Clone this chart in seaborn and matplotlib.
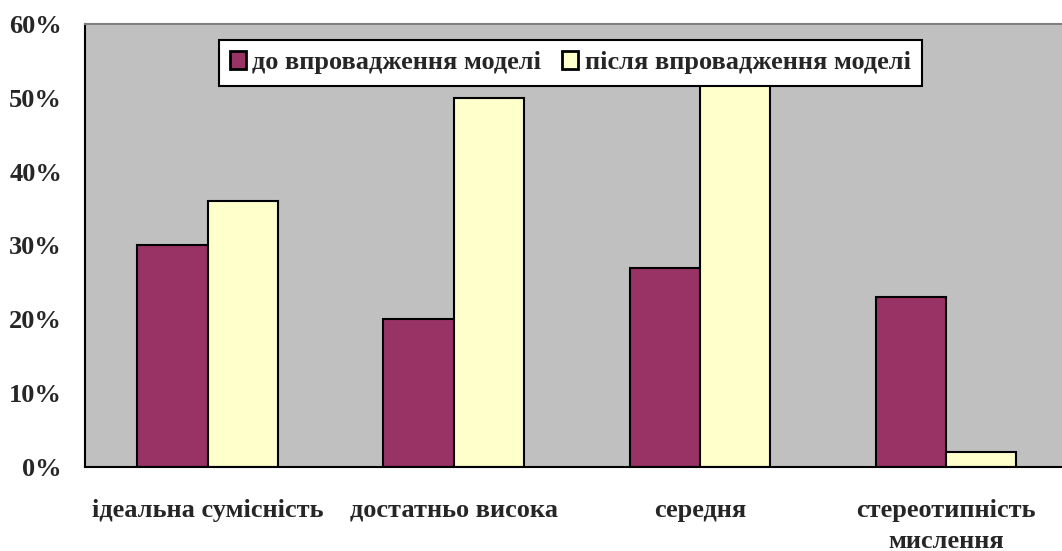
import matplotlib
matplotlib.use("Agg")
import matplotlib.pyplot as plt
import seaborn as sns
import pandas as pd
from matplotlib.ticker import FixedLocator, PercentFormatter

# Дані з діаграми
categories = ["ідеальна сумісність", "достатньо висока", "середня", "стереотипність\nмислення"]
series_names = ["до впровадження моделі", "після впровадження моделі"]
before = [30, 20, 27, 23]
after = [36, 50, 52, 2]
y_ticks = [0, 10, 20, 30, 40, 50, 60]

colors = ["#993366", "#FFFFCC"]

rows = []
for cat, b, a in zip(categories, before, after):
    rows.append({"Category": cat, "Series": series_names[0], "Value": b})
    rows.append({"Category": cat, "Series": series_names[1], "Value": a})
df = pd.DataFrame(rows)

sns.set_style("white")
plt.rcParams["font.family"] = ["Liberation Serif", "DejaVu Serif"]
plt.rcParams["font.weight"] = "bold"

fig = plt.figure(figsize=(10.62, 5.51), dpi=100)
ax = fig.add_axes([0.080, 0.1525, 0.9266, 0.804])
ax.set_facecolor("#C0C0C0")

sns.barplot(data=df, x="Category", y="Value", hue="Series", order=categories,
            hue_order=series_names, palette=colors, width=0.573, gap=0,
            edgecolor="black", linewidth=1.5, saturation=1, ax=ax)

ax.set_xlim(-0.5, 3.5)
ax.set_ylim(0, 60)
ax.set_yticks(y_ticks)
ax.yaxis.set_major_formatter(PercentFormatter(decimals=0))
ax.set_xlabel("")
ax.set_ylabel("")

# ticks between categories
ax.xaxis.set_minor_locator(FixedLocator([-0.5, 0.5, 1.5, 2.5, 3.5]))
ax.tick_params(axis="x", which="major", length=0, pad=23, labelsize=19)
ax.tick_params(axis="x", which="minor", length=6.5, width=1.5, color="black", direction="out")
ax.tick_params(axis="y", length=6.5, width=1.5, color="black", direction="out", labelsize=19, pad=10)
for lab in ax.get_xticklabels():
    lab.set_fontweight("bold")
    lab.set_linespacing(1.45)
for lab in ax.get_yticklabels():
    lab.set_fontweight("bold")

for side in ["left", "bottom"]:
    ax.spines[side].set_color("black")
    ax.spines[side].set_linewidth(1.5)
ax.spines["top"].set_color("#808080")
ax.spines["top"].set_linewidth(1.5)
ax.spines["right"].set_visible(False)

handles, labels = ax.get_legend_handles_labels()
leg = ax.legend(handles, labels, ncol=2, loc="upper left", bbox_to_anchor=(0.136, 0.964),
                borderaxespad=0, frameon=True, fancybox=False, edgecolor="black", framealpha=1,
                handlelength=0.6, handleheight=0.7, handletextpad=0.25, columnspacing=0.8,
                borderpad=0.42, prop={"weight": "bold", "size": 19})
leg.get_frame().set_linewidth(1.5)
for h in leg.legend_handles:
    h.set_linewidth(2)

fig.savefig("out.png", dpi=100)
